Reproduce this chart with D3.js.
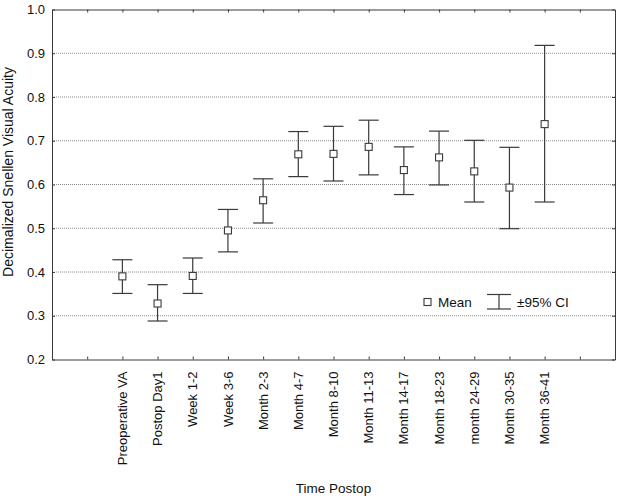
<!DOCTYPE html>
<html><head><meta charset="utf-8">
<script src="https://cdn.jsdelivr.net/npm/d3@7"></script>
<style>
html,body{margin:0;padding:0;background:#fff;}
svg{display:block;font-family:"Liberation Sans",Arial,Helvetica,sans-serif;}
</style></head>
<body>
<svg id="chart" width="619" height="498"></svg>
<script>
const categories = ["Preoperative VA","Postop Day1","Week 1-2","Week 3-6","Month 2-3","Month 4-7","Month 8-10","Month 11-13","Month 14-17","Month 18-23","month 24-29","Month 30-35","Month 36-41"];
const means = [0.390,0.328,0.391,0.495,0.564,0.669,0.670,0.686,0.633,0.662,0.630,0.593,0.738];
const upper = [0.428,0.371,0.432,0.543,0.613,0.721,0.733,0.747,0.686,0.722,0.701,0.685,0.918];
const lower = [0.351,0.288,0.351,0.446,0.512,0.618,0.608,0.622,0.577,0.599,0.560,0.499,0.560];
const yTicks = [0.2,0.3,0.4,0.5,0.6,0.7,0.8,0.9,1.0];
const yLabel = "Decimalized Snellen Visual Acuity";
const xLabel = "Time Postop";
const legendLabels = ["Mean","±95% CI"];

const svg = d3.select("#chart");
const L = 52, R = 615, T = 9.5, B = 359.5;
const slots = categories.length + 4; // two empty slots each side
const x = d3.scaleLinear().domain([0, slots - 1]).range([L, R]);
const y = d3.scaleLinear().domain([0.2, 1.0]).range([B, T]);
const ink = "#3a3a3a";

// gridlines
svg.append("g").selectAll("line").data(yTicks.filter(v => v > 0.2 && v < 1.0)).join("line")
  .attr("x1", L).attr("x2", R).attr("y1", d => y(d)).attr("y2", d => y(d))
  .attr("stroke", "#8a8a8a").attr("stroke-width", 1).attr("stroke-dasharray", "1,1");

// axes with inward ticks
const tickIdx = d3.range(1, slots - 1);
const axB = svg.append("g").attr("transform", `translate(0,${B})`)
  .call(d3.axisBottom(x).tickValues(tickIdx).tickSize(-3).tickFormat("").tickSizeOuter(0));
const axT = svg.append("g").attr("transform", `translate(0,${T})`)
  .call(d3.axisTop(x).tickValues(tickIdx).tickSize(-3).tickFormat("").tickSizeOuter(0));
const axL = svg.append("g").attr("transform", `translate(${L},0)`)
  .call(d3.axisLeft(y).tickValues(yTicks).tickSize(-3).tickFormat(d3.format(".1f")).tickSizeOuter(0).tickPadding(7));
const axR = svg.append("g").attr("transform", `translate(${R},0)`)
  .call(d3.axisRight(y).tickValues(yTicks).tickSize(-3).tickFormat("").tickSizeOuter(0));
[axB, axT, axL, axR].forEach(a => {
  a.select(".domain").attr("stroke", ink).attr("stroke-width", 1);
  a.selectAll(".tick line").attr("stroke", ink);
});
axL.selectAll(".tick text").attr("font-size", 13).attr("fill", "#111")
  .attr("font-family", "'Liberation Sans',Arial,sans-serif");

// category labels
svg.append("g").selectAll("text").data(categories).join("text")
  .attr("transform", (d, i) => `translate(${x(i + 2)},${B + 12}) rotate(-90)`)
  .attr("text-anchor", "end").attr("dy", "0.35em")
  .attr("font-size", 13).attr("fill", "#111").text(d => d);

// axis titles
svg.append("text").attr("x", (L + R) / 2).attr("y", 493).attr("text-anchor", "middle")
  .attr("font-size", 13.5).attr("fill", "#111").text(xLabel);
svg.append("text").attr("transform", `translate(13,172) rotate(-90)`).attr("text-anchor", "middle")
  .attr("font-size", 14).attr("fill", "#111").text(yLabel);

// error bars
const cap = 10;
const eb = svg.append("g").attr("stroke", ink).attr("stroke-width", 1.2).attr("fill", "none");
categories.forEach((c, i) => {
  const cx = x(i + 2);
  eb.append("line").attr("x1", cx).attr("x2", cx).attr("y1", y(upper[i])).attr("y2", y(lower[i]));
  eb.append("line").attr("x1", cx - cap).attr("x2", cx + cap).attr("y1", y(upper[i])).attr("y2", y(upper[i]));
  eb.append("line").attr("x1", cx - cap).attr("x2", cx + cap).attr("y1", y(lower[i])).attr("y2", y(lower[i]));
});
// mean markers
const ms = 7;
svg.append("g").selectAll("rect").data(means).join("rect")
  .attr("x", (d, i) => x(i + 2) - ms / 2).attr("y", d => y(d) - ms / 2)
  .attr("width", ms).attr("height", ms)
  .attr("fill", "#fff").attr("stroke", ink).attr("stroke-width", 1.1);

// legend
const lg = svg.append("g");
lg.append("rect").attr("x", 424).attr("y", 298.5).attr("width", 7).attr("height", 7)
  .attr("fill", "#fff").attr("stroke", ink).attr("stroke-width", 1.1);
lg.append("text").attr("x", 438).attr("y", 307).attr("font-size", 13.5).attr("fill", "#111").text(legendLabels[0]);
lg.append("line").attr("x1", 499).attr("x2", 499).attr("y1", 294.5).attr("y2", 309).attr("stroke", ink).attr("stroke-width", 1.2);
lg.append("line").attr("x1", 487).attr("x2", 511).attr("y1", 294.5).attr("y2", 294.5).attr("stroke", ink).attr("stroke-width", 1.2);
lg.append("line").attr("x1", 487).attr("x2", 511).attr("y1", 309).attr("y2", 309).attr("stroke", ink).attr("stroke-width", 1.2);
lg.append("text").attr("x", 517).attr("y", 307).attr("font-size", 13.5).attr("fill", "#111").text(legendLabels[1]);
</script>
</body></html>
